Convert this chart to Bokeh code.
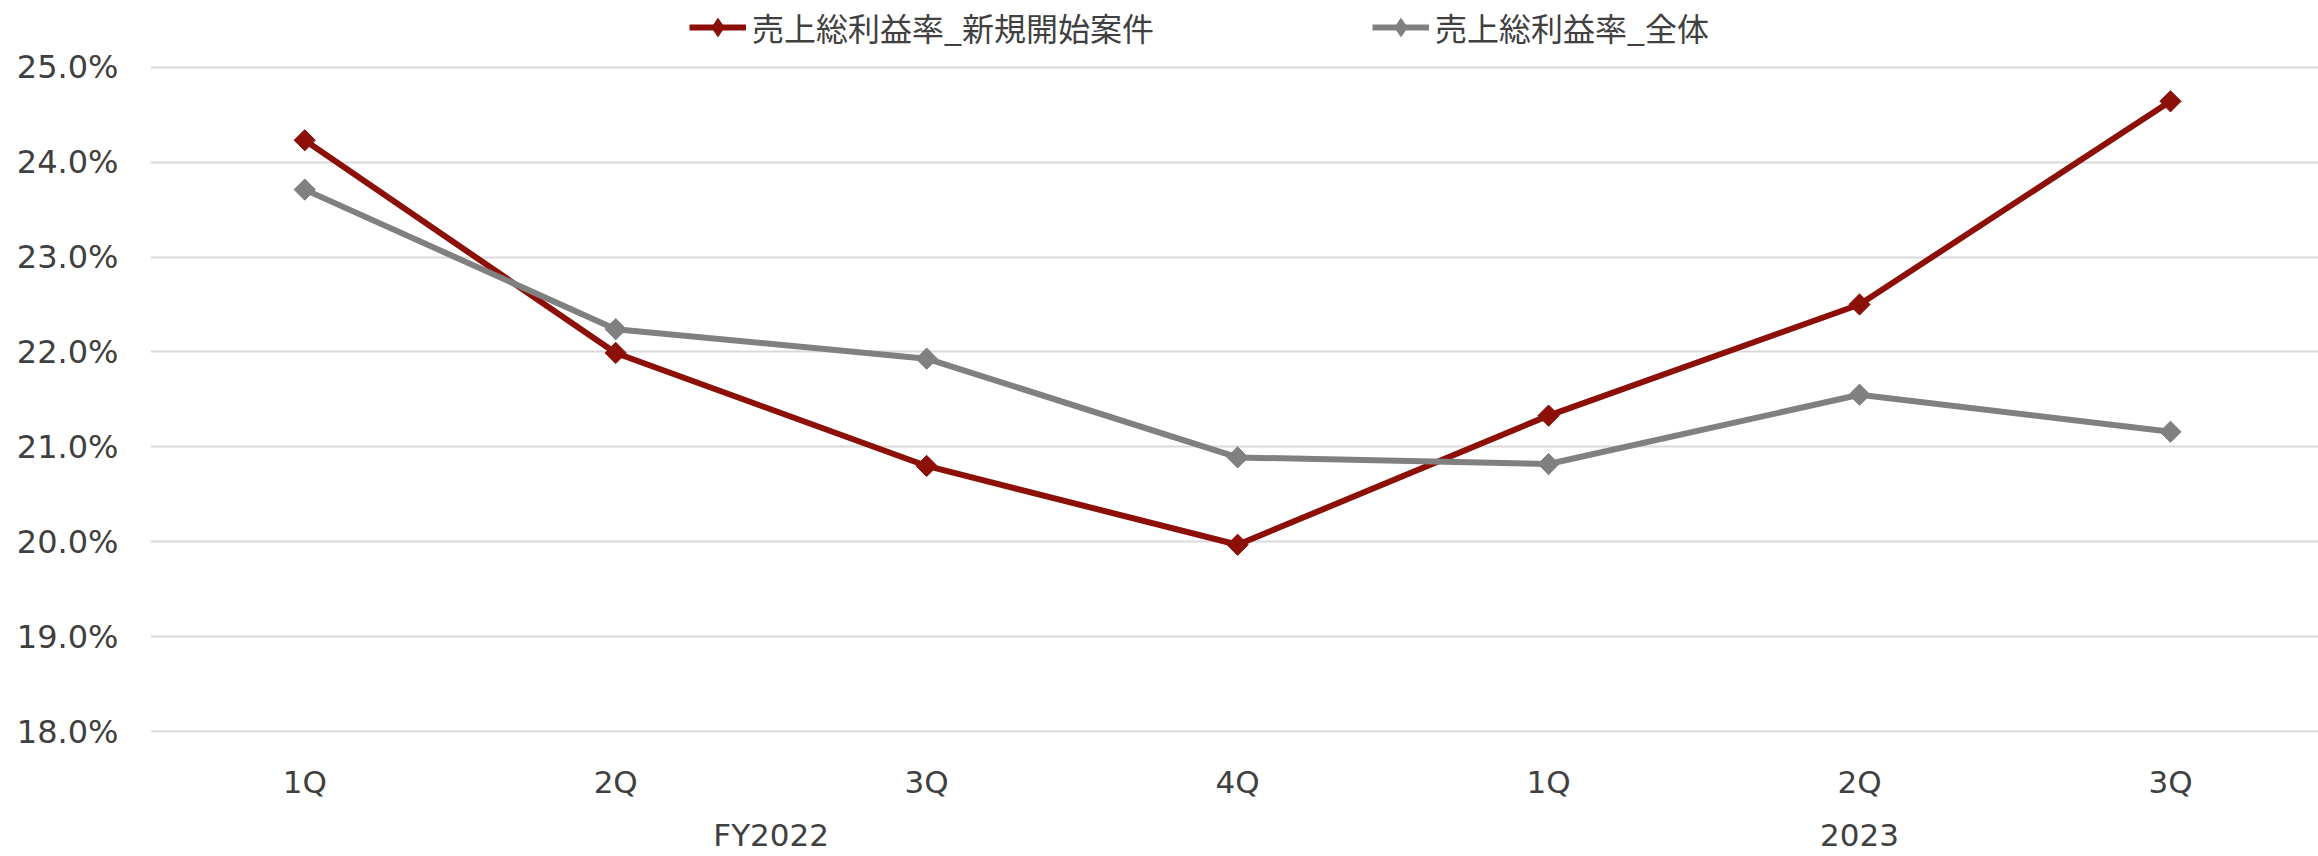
import numpy as np
from bokeh.plotting import figure
from bokeh.models import (Range1d, FixedTicker, NumeralTickFormatter, Legend,
                          LegendItem, LinearAxis, ColumnDataSource)
from bokeh.embed import file_html
from bokeh.resources import INLINE

# ---- data ----
quarters = ["1Q", "2Q", "3Q", "4Q", "1Q", "2Q", "3Q"]
fiscal_years = ["FY2022", "FY2022", "FY2022", "FY2022", "2023", "2023", "2023"]
new_projects = [24.23, 21.99, 20.80, 19.97, 21.33, 22.50, 24.64]   # 売上総利益率_新規開始案件 (%)
overall = [23.71, 22.24, 21.93, 20.89, 20.82, 21.55, 21.16]        # 売上総利益率_全体 (%)
y_ticks = [18, 19, 20, 21, 22, 23, 24, 25]
series_names = ["売上総利益率_新規開始案件", "売上総利益率_全体"]

RED = "#8C1007"
GRAY = "#808080"
TEXT = "#404040"
FONT = "DejaVu Sans"

W, H = 2318, 856
FRAME_LEFT = 150
FRAME_BOTTOM = 732.4          # y of 18% line
PX_PER_PCT = 95.08            # pixels per 1 percentage point
TOP_PAD = 66.7 / PX_PER_PCT / 100   # headroom above 25% for the legend

idx = list(range(len(quarters)))
src = ColumnDataSource(dict(
    x=idx,
    new=[v / 100 for v in new_projects],
    overall=[v / 100 for v in overall],
))

y_lo = y_ticks[0] / 100 - 0.00007
y_hi = y_ticks[-1] / 100 + TOP_PAD

p = figure(width=W, height=H, output_backend="svg", toolbar_location=None,
           x_range=Range1d(-0.496, 6.476), y_range=Range1d(y_lo, y_hi),
           min_border_left=FRAME_LEFT, min_border_right=0, min_border_top=0,
           min_border_bottom=int(round(H - FRAME_BOTTOM)))
p.outline_line_color = None
p.background_fill_color = "white"
p.xgrid.visible = False
p.ygrid.grid_line_color = "#D9D9D9"
p.ygrid.grid_line_width = 2

# y axis
p.yaxis.ticker = FixedTicker(ticks=[t / 100 for t in y_ticks])
p.yaxis.formatter = NumeralTickFormatter(format="0.0%")
# x axis: quarters
p.xaxis.ticker = FixedTicker(ticks=idx)
p.xaxis.major_label_overrides = {i: q for i, q in enumerate(quarters)}

# second x axis: fiscal-year groups, centred under their quarters
groups = []
for fy in fiscal_years:
    if fy not in groups:
        groups.append(fy)
group_centers = [float(np.mean([i for i, g in enumerate(fiscal_years) if g == fy])) for fy in groups]
ax2 = LinearAxis(ticker=FixedTicker(ticks=group_centers),
                 major_label_overrides={c: fy for c, fy in zip(group_centers, groups)})
p.add_layout(ax2, "below")

for ax in (p.xaxis[0], p.yaxis[0], ax2):
    ax.axis_line_color = None
    ax.major_tick_line_color = None
    ax.minor_tick_line_color = None
    ax.major_tick_out = 0
    ax.major_tick_in = 0
    ax.major_label_text_font = FONT
    ax.major_label_text_color = TEXT
p.yaxis.major_label_text_font_size = "32px"
p.xaxis[0].major_label_text_font_size = "31px"
ax2.major_label_text_font_size = "31px"
ax2.major_label_text_line_height = 1.0
p.yaxis.major_label_standoff = 32
p.xaxis[0].major_label_standoff = 31
ax2.major_label_standoff = 14

l1 = p.line("x", "new", source=src, line_color=RED, line_width=6)
d1 = p.scatter("x", "new", source=src, marker="diamond", size=20,
               fill_color=RED, line_color=RED)
s1 = p.scatter("x", "new", source=src, marker="square", size=15, angle=np.pi / 4,
               fill_color=RED, line_color=RED)
l2 = p.line("x", "overall", source=src, line_color=GRAY, line_width=6)
d2 = p.scatter("x", "overall", source=src, marker="diamond", size=20,
               fill_color=GRAY, line_color=GRAY)
s2 = p.scatter("x", "overall", source=src, marker="square", size=15, angle=np.pi / 4,
               fill_color=GRAY, line_color=GRAY)

frame_h = FRAME_BOTTOM
legend = Legend(items=[LegendItem(label=series_names[0], renderers=[l1, d1]),
                       LegendItem(label=series_names[1], renderers=[l2, d2])],
                orientation="horizontal", location=(689 - FRAME_LEFT, frame_h - 50),
                glyph_width=57, glyph_height=46, label_height=46, label_width=620,
                label_standoff=6, spacing=0, padding=0, margin=0,
                border_line_color=None, background_fill_alpha=0,
                label_text_font="Noto Sans CJK JP", label_text_font_size="32px",
                label_text_color=TEXT)
p.add_layout(legend)

open("out.html", "w").write(file_html(p, INLINE))
